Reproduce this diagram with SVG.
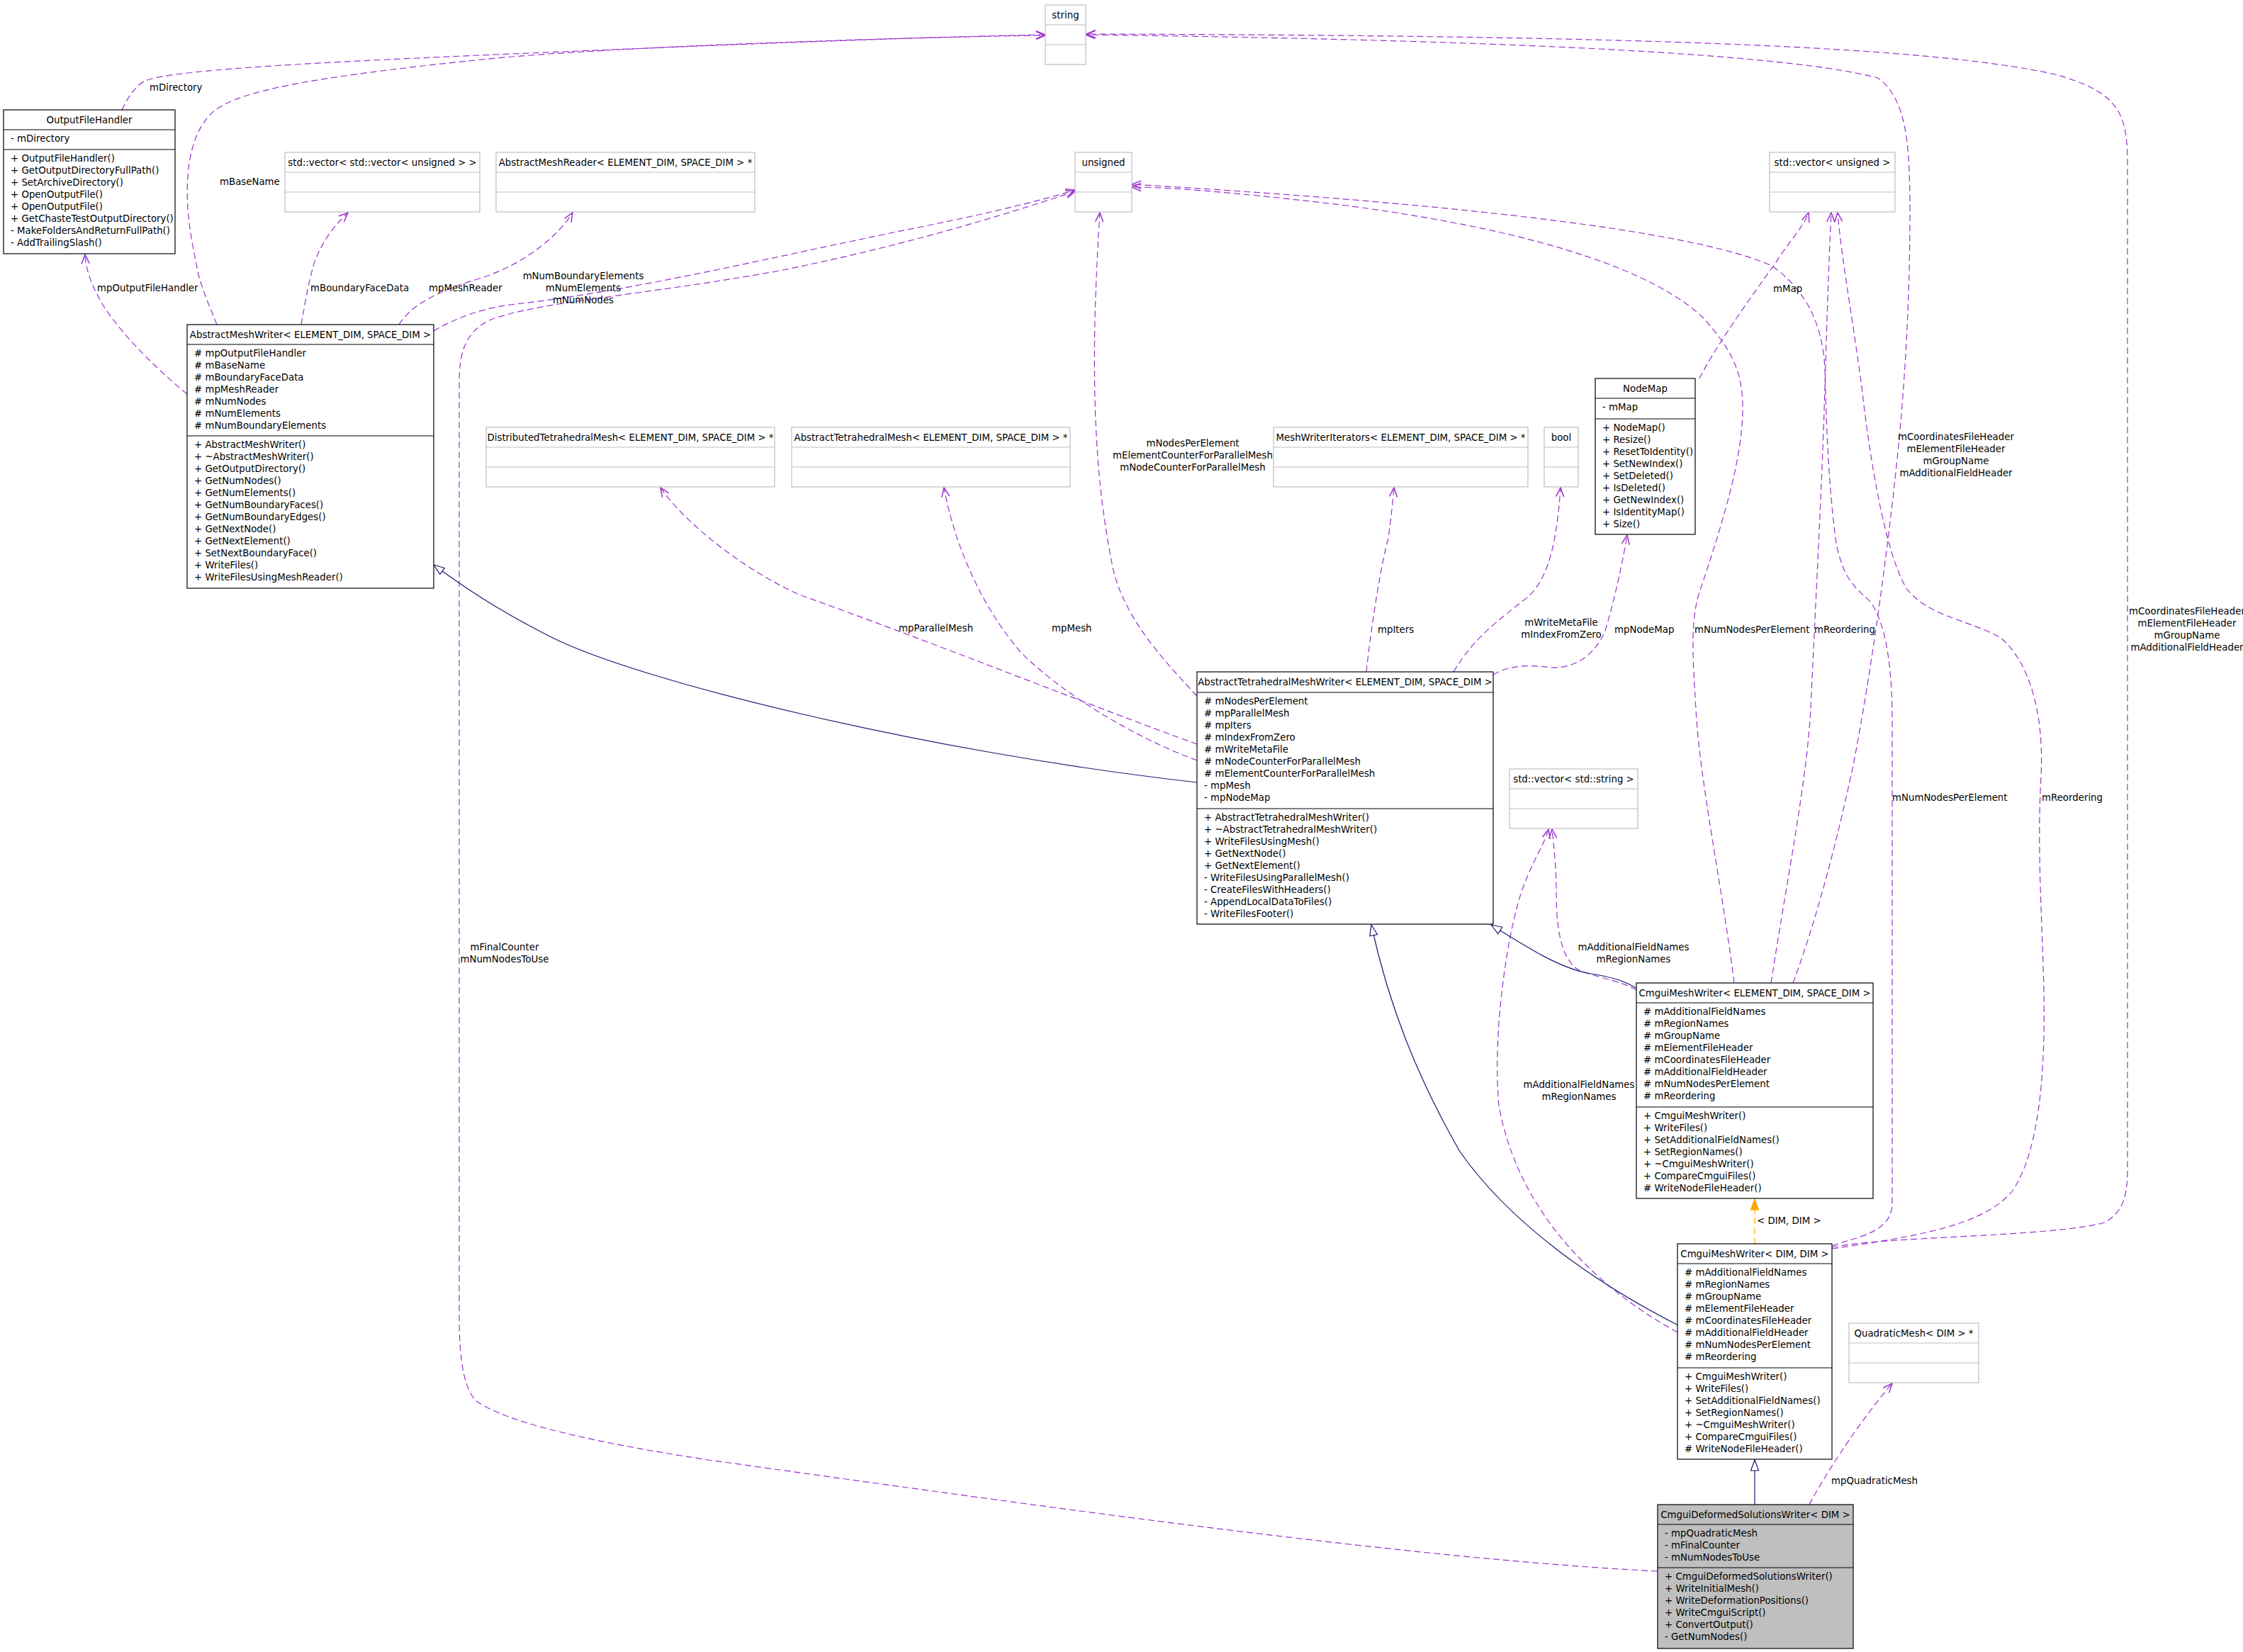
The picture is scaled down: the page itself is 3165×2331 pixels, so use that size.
<svg xmlns="http://www.w3.org/2000/svg" width="3165" height="2331" viewBox="0 0 3165 2331">
<style>
text{font-family:"DejaVu Sans","Liberation Sans",sans-serif;font-size:13.33px;fill:#000}
.c{text-anchor:middle}
.b{fill:#fff;stroke:#000;stroke-width:1.2}
.g{fill:#fff;stroke:#bfbfbf;stroke-width:1.2}
.gr{fill:#bfbfbf;stroke:#000;stroke-width:1.2}
.l{stroke:#000;stroke-width:1.2}
.lg{stroke:#bfbfbf;stroke-width:1.2}
.u{fill:none;stroke:#9a32cd;stroke-width:1.2;stroke-dasharray:9,5;marker-end:url(#vee)}
.i{fill:none;stroke:#191970;stroke-width:1.2;marker-end:url(#tri)}
.o{fill:none;stroke:#ffa500;stroke-width:1.2;stroke-dasharray:9,5;marker-end:url(#otri)}
</style>
<defs>
<marker id="vee" markerUnits="userSpaceOnUse" markerWidth="16" markerHeight="14" refX="14" refY="7" orient="auto"><path d="M1,1.5 L14,7 L1,12.5" fill="none" stroke="#9a32cd" stroke-width="1.5"/></marker>
<marker id="tri" markerUnits="userSpaceOnUse" markerWidth="18" markerHeight="14" refX="16" refY="7" orient="auto"><path d="M1,1.5 L16,7 L1,12.5 Z" fill="#fff" stroke="#191970" stroke-width="1.2"/></marker>
<marker id="otri" markerUnits="userSpaceOnUse" markerWidth="18" markerHeight="14" refX="16" refY="7" orient="auto"><path d="M1,1.5 L16,7 L1,12.5 Z" fill="#ffa500" stroke="#ffa500" stroke-width="1.2"/></marker>
</defs>
<rect width="3165" height="2331" fill="#fff"/>

<g id="connectors">
<path class="u" d="M172,155 C180,138 192,120 205,114 C240,100 400,90 700,77 C1000,64 1300,52 1475,49"/>
<path class="u" d="M306,458 C295,430 281,400 277,372 C268,330 262,290 265,250 C268,200 285,170 304,155 C340,130 420,110 700,82 C900,64 1300,52 1475,50"/>
<path class="u" d="M264,556 C220,520 170,470 145,430 C128,400 121,380 120,359"/>
<path class="u" d="M425,458 C430,430 435,400 443,372 C455,340 470,320 491,300"/>
<path class="u" d="M563,458 C580,430 620,410 670,395 C740,375 790,330 808,300"/>
<path class="u" d="M612,467 C640,450 680,435 720,430 C900,410 1100,360 1300,320 C1400,300 1480,280 1517,268"/>
<path class="u" d="M2339,2217 C2000,2200 1500,2130 1000,2060 C800,2030 700,2000 670,1975 C650,1950 648,1900 648,1850 L648,540 C648,500 655,470 690,452 C760,425 900,418 1100,382 C1300,342 1450,292 1517,270"/>
<path class="u" d="M1689,982 C1640,930 1585,870 1570,800 C1550,700 1542,600 1545,450 C1547,380 1550,330 1552,300"/>
<path class="u" d="M2447,1387 C2430,1250 2398,1100 2393,1000 C2388,920 2385,870 2400,830 C2430,740 2458,650 2459,580 C2460,520 2440,490 2402,447 C2340,390 2200,330 1900,290 C1750,272 1650,264 1597,264"/>
<path class="u" d="M2499,1387 C2520,1250 2550,1100 2555,1000 C2562,850 2570,700 2574,580 C2577,480 2580,380 2584,300"/>
<path class="u" d="M2530,1387 C2570,1280 2600,1150 2615,1080 C2640,950 2660,800 2672,694 C2685,580 2695,450 2695,300 C2695,200 2690,140 2650,110 C2500,70 2000,55 1532,49"/>
<path class="u" d="M2585,1760 C2650,1745 2900,1745 2970,1725 C2995,1710 3002,1690 3002,1650 L3002,230 C3002,160 2990,130 2900,105 C2700,60 2200,50 1533,48"/>
<path class="u" d="M2585,1762 C2700,1745 2800,1730 2840,1680 C2880,1620 2886,1500 2884,1400 C2882,1300 2874,1200 2880,1096 C2885,1000 2860,930 2823,900 C2780,875 2720,870 2690,830 C2660,780 2640,650 2631,580 C2620,480 2600,380 2593,300"/>
<path class="u" d="M2585,1758 C2620,1745 2668,1740 2670,1700 L2670,1000 C2668,930 2660,880 2640,850 C2620,830 2600,820 2590,760 C2580,680 2577,600 2575,520 C2572,460 2550,410 2500,375 C2400,330 2100,290 1597,260"/>
<path class="u" d="M2309,1397 C2290,1385 2250,1378 2230,1370 C2200,1355 2196,1300 2196,1260 C2196,1220 2192,1190 2190,1170"/>
<path class="u" d="M2367,1880 C2240,1810 2140,1700 2115,1560 C2105,1450 2130,1300 2150,1250 C2165,1210 2180,1190 2185,1170"/>
<path class="u" d="M1689,1050 C1550,1000 1300,900 1130,840 C1040,800 960,730 932,688"/>
<path class="u" d="M1689,1073 C1600,1040 1500,980 1440,920 C1380,850 1345,760 1332,688"/>
<path class="u" d="M1928,948 C1935,880 1950,790 1959,760 C1963,730 1966,700 1967,688"/>
<path class="u" d="M2051,948 C2080,900 2112,877 2150,847 C2180,825 2196,780 2202,688"/>
<path class="u" d="M2107,952 C2130,938 2160,938 2188,942 C2230,944 2255,915 2265,890 C2280,840 2290,790 2296,755"/>
<path class="u" d="M2398,534 C2420,490 2470,420 2504,373 C2525,340 2545,320 2552,300"/>
<path class="u" d="M2553,2123 C2570,2090 2620,2010 2670,1952"/>
<path class="i" d="M1689,1104 C1300,1060 900,960 780,900 C700,860 650,825 612,797"/>
<path class="i" d="M2310,1395 C2290,1382 2270,1378 2240,1373 C2200,1365 2160,1340 2104,1305"/>
<path class="i" d="M2368,1870 C2250,1810 2130,1725 2060,1625 C2000,1520 1960,1420 1935,1305"/>
<path class="i" d="M2476,2123 L2476,2060"/>
<path class="o" d="M2476,1755 L2476,1692"/>
</g>

<g id="connector-labels">
<text x="211" y="128">mDirectory</text>
<text x="310" y="261">mBaseName</text>
<text x="137" y="411">mpOutputFileHandler</text>
<text x="438" y="411">mBoundaryFaceData</text>
<text x="605" y="411">mpMeshReader</text>
<text class="c" x="823" y="394">mNumBoundaryElements</text>
<text class="c" x="823" y="411">mNumElements</text>
<text class="c" x="823" y="428">mNumNodes</text>
<text class="c" x="1683" y="630">mNodesPerElement</text>
<text class="c" x="1683" y="647">mElementCounterForParallelMesh</text>
<text class="c" x="1683" y="664">mNodeCounterForParallelMesh</text>
<text x="1268" y="891">mpParallelMesh</text>
<text x="1484" y="891">mpMesh</text>
<text x="1944" y="893">mpIters</text>
<text class="c" x="2203" y="883">mWriteMetaFile</text>
<text class="c" x="2203" y="900">mIndexFromZero</text>
<text x="2278" y="893">mpNodeMap</text>
<text x="2391" y="893">mNumNodesPerElement</text>
<text x="2560" y="893">mReordering</text>
<text x="2502" y="412">mMap</text>
<text class="c" x="2760" y="621">mCoordinatesFileHeader</text>
<text class="c" x="2760" y="638">mElementFileHeader</text>
<text class="c" x="2760" y="655">mGroupName</text>
<text class="c" x="2760" y="672">mAdditionalFieldHeader</text>
<text x="2670" y="1130">mNumNodesPerElement</text>
<text x="2881" y="1130">mReordering</text>
<text class="c" x="3086" y="867">mCoordinatesFileHeader</text>
<text class="c" x="3086" y="884">mElementFileHeader</text>
<text class="c" x="3086" y="901">mGroupName</text>
<text class="c" x="3086" y="918">mAdditionalFieldHeader</text>
<text class="c" x="2305" y="1341">mAdditionalFieldNames</text>
<text class="c" x="2305" y="1358">mRegionNames</text>
<text class="c" x="2228" y="1535">mAdditionalFieldNames</text>
<text class="c" x="2228" y="1552">mRegionNames</text>
<text class="c" x="712" y="1341">mFinalCounter</text>
<text class="c" x="712" y="1358">mNumNodesToUse</text>
<text x="2479" y="1727">&lt; DIM, DIM &gt;</text>
<text x="2584" y="2094">mpQuadraticMesh</text>
</g>

<g id="node-string">
<rect class="g" x="1475" y="7" width="57" height="84"/>
<line class="lg" x1="1475" y1="35" x2="1532" y2="35"/><line class="lg" x1="1475" y1="63" x2="1532" y2="63"/>
<text class="c" x="1503.5" y="25.5">string</text>
</g>

<g id="node-OutputFileHandler">
<rect class="b" x="5" y="155" width="242" height="203"/>
<line class="l" x1="5" y1="183" x2="247" y2="183"/><line class="l" x1="5" y1="211" x2="247" y2="211"/>
<text class="c" x="126" y="173.5">OutputFileHandler</text>
<text x="15" y="200">- mDirectory</text>
<text x="15" y="228">+ OutputFileHandler()</text>
<text x="15" y="245">+ GetOutputDirectoryFullPath()</text>
<text x="15" y="262">+ SetArchiveDirectory()</text>
<text x="15" y="279">+ OpenOutputFile()</text>
<text x="15" y="296">+ OpenOutputFile()</text>
<text x="15" y="313">+ GetChasteTestOutputDirectory()</text>
<text x="15" y="330">- MakeFoldersAndReturnFullPath()</text>
<text x="15" y="347">- AddTrailingSlash()</text>
</g>

<g id="node-vector-vector-unsigned">
<rect class="g" x="402" y="215" width="275" height="84"/>
<line class="lg" x1="402" y1="243" x2="677" y2="243"/><line class="lg" x1="402" y1="271" x2="677" y2="271"/>
<text class="c" x="539.5" y="233.5">std::vector&lt; std::vector&lt; unsigned &gt; &gt;</text>
</g>

<g id="node-AbstractMeshReader">
<rect class="g" x="700" y="215" width="365" height="84"/>
<line class="lg" x1="700" y1="243" x2="1065" y2="243"/><line class="lg" x1="700" y1="271" x2="1065" y2="271"/>
<text class="c" x="882.5" y="233.5">AbstractMeshReader&lt; ELEMENT_DIM, SPACE_DIM &gt; *</text>
</g>

<g id="node-unsigned">
<rect class="g" x="1517" y="215" width="80" height="84"/>
<line class="lg" x1="1517" y1="243" x2="1597" y2="243"/><line class="lg" x1="1517" y1="271" x2="1597" y2="271"/>
<text class="c" x="1557" y="233.5">unsigned</text>
</g>

<g id="node-vector-unsigned">
<rect class="g" x="2497" y="215" width="177" height="84"/>
<line class="lg" x1="2497" y1="243" x2="2674" y2="243"/><line class="lg" x1="2497" y1="271" x2="2674" y2="271"/>
<text class="c" x="2585.5" y="233.5">std::vector&lt; unsigned &gt;</text>
</g>

<g id="node-AbstractMeshWriter">
<rect class="b" x="264" y="458" width="348" height="372"/>
<line class="l" x1="264" y1="486" x2="612" y2="486"/><line class="l" x1="264" y1="615" x2="612" y2="615"/>
<text class="c" x="438" y="476.5">AbstractMeshWriter&lt; ELEMENT_DIM, SPACE_DIM &gt;</text>
<text x="274" y="503"># mpOutputFileHandler</text>
<text x="274" y="520"># mBaseName</text>
<text x="274" y="537"># mBoundaryFaceData</text>
<text x="274" y="554"># mpMeshReader</text>
<text x="274" y="571"># mNumNodes</text>
<text x="274" y="588"># mNumElements</text>
<text x="274" y="605"># mNumBoundaryElements</text>
<text x="274" y="632">+ AbstractMeshWriter()</text>
<text x="274" y="649">+ ~AbstractMeshWriter()</text>
<text x="274" y="666">+ GetOutputDirectory()</text>
<text x="274" y="683">+ GetNumNodes()</text>
<text x="274" y="700">+ GetNumElements()</text>
<text x="274" y="717">+ GetNumBoundaryFaces()</text>
<text x="274" y="734">+ GetNumBoundaryEdges()</text>
<text x="274" y="751">+ GetNextNode()</text>
<text x="274" y="768">+ GetNextElement()</text>
<text x="274" y="785">+ SetNextBoundaryFace()</text>
<text x="274" y="802">+ WriteFiles()</text>
<text x="274" y="819">+ WriteFilesUsingMeshReader()</text>
</g>

<g id="node-DistributedTetrahedralMesh">
<rect class="g" x="686" y="603" width="407" height="84"/>
<line class="lg" x1="686" y1="631" x2="1093" y2="631"/><line class="lg" x1="686" y1="659" x2="1093" y2="659"/>
<text class="c" x="889.5" y="621.5">DistributedTetrahedralMesh&lt; ELEMENT_DIM, SPACE_DIM &gt; *</text>
</g>

<g id="node-AbstractTetrahedralMesh">
<rect class="g" x="1117" y="603" width="393" height="84"/>
<line class="lg" x1="1117" y1="631" x2="1510" y2="631"/><line class="lg" x1="1117" y1="659" x2="1510" y2="659"/>
<text class="c" x="1313.5" y="621.5">AbstractTetrahedralMesh&lt; ELEMENT_DIM, SPACE_DIM &gt; *</text>
</g>

<g id="node-MeshWriterIterators">
<rect class="g" x="1797" y="603" width="359" height="84"/>
<line class="lg" x1="1797" y1="631" x2="2156" y2="631"/><line class="lg" x1="1797" y1="659" x2="2156" y2="659"/>
<text class="c" x="1976.5" y="621.5">MeshWriterIterators&lt; ELEMENT_DIM, SPACE_DIM &gt; *</text>
</g>

<g id="node-bool">
<rect class="g" x="2179" y="603" width="48" height="84"/>
<line class="lg" x1="2179" y1="631" x2="2227" y2="631"/><line class="lg" x1="2179" y1="659" x2="2227" y2="659"/>
<text class="c" x="2203" y="621.5">bool</text>
</g>

<g id="node-NodeMap">
<rect class="b" x="2251" y="534" width="141" height="220"/>
<line class="l" x1="2251" y1="562" x2="2392" y2="562"/><line class="l" x1="2251" y1="591" x2="2392" y2="591"/>
<text class="c" x="2321.5" y="552.5">NodeMap</text>
<text x="2261" y="579">- mMap</text>
<text x="2261" y="608">+ NodeMap()</text>
<text x="2261" y="625">+ Resize()</text>
<text x="2261" y="642">+ ResetToIdentity()</text>
<text x="2261" y="659">+ SetNewIndex()</text>
<text x="2261" y="676">+ SetDeleted()</text>
<text x="2261" y="693">+ IsDeleted()</text>
<text x="2261" y="710">+ GetNewIndex()</text>
<text x="2261" y="727">+ IsIdentityMap()</text>
<text x="2261" y="744">+ Size()</text>
</g>

<g id="node-AbstractTetrahedralMeshWriter">
<rect class="b" x="1689" y="948" width="418" height="356"/>
<line class="l" x1="1689" y1="977" x2="2107" y2="977"/><line class="l" x1="1689" y1="1141" x2="2107" y2="1141"/>
<text class="c" x="1898" y="966.5">AbstractTetrahedralMeshWriter&lt; ELEMENT_DIM, SPACE_DIM &gt;</text>
<text x="1699" y="994"># mNodesPerElement</text>
<text x="1699" y="1011"># mpParallelMesh</text>
<text x="1699" y="1028"># mpIters</text>
<text x="1699" y="1045"># mIndexFromZero</text>
<text x="1699" y="1062"># mWriteMetaFile</text>
<text x="1699" y="1079"># mNodeCounterForParallelMesh</text>
<text x="1699" y="1096"># mElementCounterForParallelMesh</text>
<text x="1699" y="1113">- mpMesh</text>
<text x="1699" y="1130">- mpNodeMap</text>
<text x="1699" y="1158">+ AbstractTetrahedralMeshWriter()</text>
<text x="1699" y="1175">+ ~AbstractTetrahedralMeshWriter()</text>
<text x="1699" y="1192">+ WriteFilesUsingMesh()</text>
<text x="1699" y="1209">+ GetNextNode()</text>
<text x="1699" y="1226">+ GetNextElement()</text>
<text x="1699" y="1243">- WriteFilesUsingParallelMesh()</text>
<text x="1699" y="1260">- CreateFilesWithHeaders()</text>
<text x="1699" y="1277">- AppendLocalDataToFiles()</text>
<text x="1699" y="1294">- WriteFilesFooter()</text>
</g>

<g id="node-vector-string">
<rect class="g" x="2130" y="1085" width="181" height="84"/>
<line class="lg" x1="2130" y1="1113" x2="2311" y2="1113"/><line class="lg" x1="2130" y1="1141" x2="2311" y2="1141"/>
<text class="c" x="2220.5" y="1103.5">std::vector&lt; std::string &gt;</text>
</g>

<g id="node-CmguiMeshWriter-ES">
<rect class="b" x="2309" y="1387" width="334" height="304"/>
<line class="l" x1="2309" y1="1415" x2="2643" y2="1415"/><line class="l" x1="2309" y1="1562" x2="2643" y2="1562"/>
<text class="c" x="2476" y="1405.5">CmguiMeshWriter&lt; ELEMENT_DIM, SPACE_DIM &gt;</text>
<text x="2319" y="1432"># mAdditionalFieldNames</text>
<text x="2319" y="1449"># mRegionNames</text>
<text x="2319" y="1466"># mGroupName</text>
<text x="2319" y="1483"># mElementFileHeader</text>
<text x="2319" y="1500"># mCoordinatesFileHeader</text>
<text x="2319" y="1517"># mAdditionalFieldHeader</text>
<text x="2319" y="1534"># mNumNodesPerElement</text>
<text x="2319" y="1551"># mReordering</text>
<text x="2319" y="1579">+ CmguiMeshWriter()</text>
<text x="2319" y="1596">+ WriteFiles()</text>
<text x="2319" y="1613">+ SetAdditionalFieldNames()</text>
<text x="2319" y="1630">+ SetRegionNames()</text>
<text x="2319" y="1647">+ ~CmguiMeshWriter()</text>
<text x="2319" y="1664">+ CompareCmguiFiles()</text>
<text x="2319" y="1681"># WriteNodeFileHeader()</text>
</g>

<g id="node-CmguiMeshWriter-DD">
<rect class="b" x="2367" y="1755" width="218" height="304"/>
<line class="l" x1="2367" y1="1783" x2="2585" y2="1783"/><line class="l" x1="2367" y1="1930" x2="2585" y2="1930"/>
<text class="c" x="2476" y="1773.5">CmguiMeshWriter&lt; DIM, DIM &gt;</text>
<text x="2377" y="1800"># mAdditionalFieldNames</text>
<text x="2377" y="1817"># mRegionNames</text>
<text x="2377" y="1834"># mGroupName</text>
<text x="2377" y="1851"># mElementFileHeader</text>
<text x="2377" y="1868"># mCoordinatesFileHeader</text>
<text x="2377" y="1885"># mAdditionalFieldHeader</text>
<text x="2377" y="1902"># mNumNodesPerElement</text>
<text x="2377" y="1919"># mReordering</text>
<text x="2377" y="1947">+ CmguiMeshWriter()</text>
<text x="2377" y="1964">+ WriteFiles()</text>
<text x="2377" y="1981">+ SetAdditionalFieldNames()</text>
<text x="2377" y="1998">+ SetRegionNames()</text>
<text x="2377" y="2015">+ ~CmguiMeshWriter()</text>
<text x="2377" y="2032">+ CompareCmguiFiles()</text>
<text x="2377" y="2049"># WriteNodeFileHeader()</text>
</g>

<g id="node-QuadraticMesh">
<rect class="g" x="2609" y="1867" width="183" height="84"/>
<line class="lg" x1="2609" y1="1895" x2="2792" y2="1895"/><line class="lg" x1="2609" y1="1923" x2="2792" y2="1923"/>
<text class="c" x="2700.5" y="1885.5">QuadraticMesh&lt; DIM &gt; *</text>
</g>

<g id="node-CmguiDeformedSolutionsWriter">
<rect class="gr" x="2339" y="2123" width="276" height="203"/>
<line class="l" x1="2339" y1="2151" x2="2615" y2="2151"/><line class="l" x1="2339" y1="2212" x2="2615" y2="2212"/>
<text class="c" x="2477" y="2141.5">CmguiDeformedSolutionsWriter&lt; DIM &gt;</text>
<text x="2349" y="2168">- mpQuadraticMesh</text>
<text x="2349" y="2185">- mFinalCounter</text>
<text x="2349" y="2202">- mNumNodesToUse</text>
<text x="2349" y="2229">+ CmguiDeformedSolutionsWriter()</text>
<text x="2349" y="2246">+ WriteInitialMesh()</text>
<text x="2349" y="2263">+ WriteDeformationPositions()</text>
<text x="2349" y="2280">+ WriteCmguiScript()</text>
<text x="2349" y="2297">+ ConvertOutput()</text>
<text x="2349" y="2314">- GetNumNodes()</text>
</g>
</svg>
